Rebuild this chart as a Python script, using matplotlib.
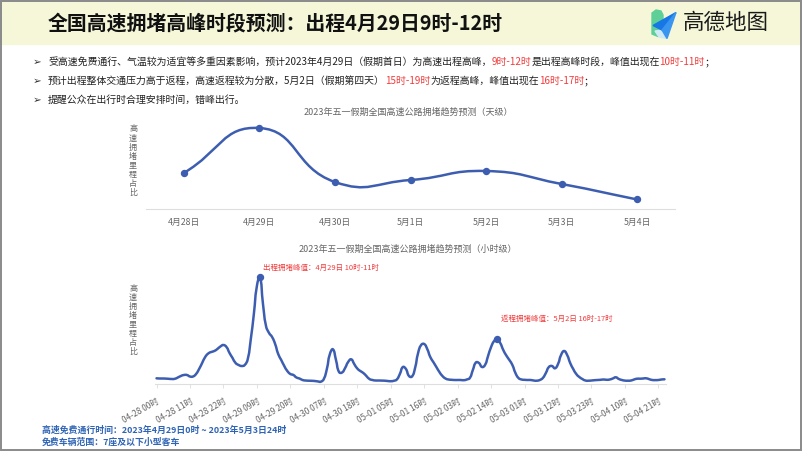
import matplotlib
matplotlib.use("Agg")

import matplotlib.pyplot as plt
import numpy as np
import pandas as pd
from matplotlib.path import Path
from matplotlib.patches import PathPatch, Polygon, Rectangle

plt.rcParams["font.family"] = ["Noto Sans CJK SC", "DejaVu Sans"]

W, H = 802, 451
LINE_BLUE = "#3d5eb0"
RED = "#f03c3c"
DARK = "#222222"
GRAY = "#666666"

TITLE = "全国高速拥堵高峰时段预测：出程4月29日9时-12时"
BRAND = "高德地图"

BULLETS = [
    [("受高速免费通行、气温较为适宜等多重因素影响，预计2023年4月29日（假期首日）为高速出程高峰，", False),
     ("9时-12时", True), ("是出程高峰时段，峰值出现在", False), ("10时-11时", True), ("；", False)],
    [("预计出程整体交通压力高于返程，高速返程较为分散，5月2日（假期第四天）", False),
     ("15时-19时", True), ("为返程高峰，峰值出现在", False), ("16时-17时", True), ("；", False)],
    [("提醒公众在出行时合理安排时间，错峰出行。", False)],
]

Y_LABEL = "高速拥堵里程占比"

DAY_TITLE = "2023年五一假期全国高速公路拥堵趋势预测（天级）"
DAYS = ["4月28日", "4月29日", "4月30日", "5月1日", "5月2日", "5月3日", "5月4日"]
DAY_VALUES = [36, 81, 27, 29, 38, 25, 9.5]

HOUR_TITLE = "2023年五一假期全国高速公路拥堵趋势预测（小时级）"
HOUR_START = "2023-04-28 00:00"
HOURLY_VALUES = [
    # 04-28
    5.7, 5.5, 5.5, 5.4, 5.2, 5.0, 5.2, 6.5, 8.0, 9.0, 9.0, 7.5,
    7.5, 10, 15, 21, 27, 30.5, 32, 33, 35, 37.5, 39, 37,
    # 04-29
    31, 26, 21, 19, 18, 19, 25, 45, 70, 98, 107, 80,
    58, 51, 47, 40, 30, 24, 18, 13, 10, 9, 6.5, 5.5,
    # 04-30
    4, 3.5, 3.3, 3.2, 3.0, 2.6, 2.3, 5, 15, 30, 34.7, 24,
    12, 11.5, 16, 22, 24.7, 20, 15.5, 13, 11, 8, 5, 4,
    # 05-01
    3.5, 3.5, 3.4, 3.3, 3.0, 2.8, 3.2, 4.5, 10, 17, 15, 8,
    7.5, 16, 31, 39, 40, 35, 27, 22, 17, 12, 8, 5.5,
    # 05-02
    4.5, 4.2, 4.0, 4.0, 4.0, 3.8, 4.5, 6, 14, 21.5, 21, 17,
    19, 28, 37, 43, 45, 41, 34, 28.5, 24, 19, 11, 6,
    # 05-03
    4.5, 4.2, 4.0, 4.0, 3.5, 3.3, 4.0, 6, 11, 17, 18, 15.7,
    20, 29, 33, 29, 21, 15, 10, 7, 5, 3.5, 3.3, 3.5,
    # 05-04
    3.8, 4.0, 4.2, 4.5, 4.2, 4.5, 5.5, 6.7, 5.0, 4.0, 3.4, 3.3,
    3.5, 4.5, 5.3, 5.3, 5.5, 5.7, 4.8, 4.0, 3.9, 4.0, 4.5, 4.7,
]
HOUR_TICK_STEP = 11
OUT_PEAK = (34, "出程拥堵峰值：4月29日 10时-11时")
RET_PEAK = (112, "返程拥堵峰值：5月2日 16时-17时")

NOTES = [
    "高速免费通行时间：2023年4月29日0时 ~ 2023年5月3日24时",
    "免费车辆范围：7座及以下小型客车",
]


def px_axes(fig, left, top, right, bottom):
    return fig.add_axes([left / W, 1 - bottom / H, (right - left) / W, (bottom - top) / H])


def smooth_line(ax, xs, ys, smooth=0.5, **kw):
    # echarts-like bezier smoothing, control points worked out in display space
    pts = ax.transData.transform(np.column_stack([xs, ys]))
    n = len(pts)
    verts = [pts[0]]
    codes = [Path.MOVETO]
    for i in range(n - 1):
        p0 = pts[max(i - 1, 0)]
        p1 = pts[i]
        p2 = pts[i + 1]
        p3 = pts[min(i + 2, n - 1)]
        d0 = np.hypot(*(p1 - p0))
        d1 = np.hypot(*(p2 - p1))
        d2 = np.hypot(*(p3 - p2))
        r1 = d1 / (d0 + d1) if d0 + d1 > 0 else 0.5
        r2 = d1 / (d1 + d2) if d1 + d2 > 0 else 0.5
        c1 = p1 + (p2 - p0) * smooth * r1
        c2 = p2 - (p3 - p1) * smooth * r2
        verts += [c1, c2, p2]
        codes += [Path.CURVE4] * 3
    verts = ax.transData.inverted().transform(np.array(verts))
    ax.add_patch(PathPatch(Path(verts, codes), fill=False, **kw))


def style_chart(ax):
    for side in ["top", "right", "left"]:
        ax.spines[side].set_visible(False)
    ax.spines["bottom"].set_color("#dedede")
    ax.spines["bottom"].set_linewidth(0.8)
    ax.set_yticks([])
    ax.set_facecolor("none")


def vertical_label(ax0, x, y_top, text):
    for i, ch in enumerate(text):
        ax0.text(x, y_top + i * 9.1, ch, fontsize=5.8, color=GRAY, ha="center", va="center")


def text_width(ax0, renderer, s, size):
    t = ax0.text(0, 0, s, fontsize=size)
    w = t.get_window_extent(renderer=renderer).width
    t.remove()
    return w


def main():
    fig = plt.figure(figsize=(W / 100, H / 100), dpi=100)
    fig.patch.set_facecolor("white")

    # full-figure overlay in pixel units
    ax0 = fig.add_axes([0, 0, 1, 1])
    ax0.set_xlim(0, W)
    ax0.set_ylim(H, 0)
    ax0.axis("off")
    renderer = fig.canvas.get_renderer()

    ax0.add_patch(Rectangle((0, 0), W, 44, color="#f5f7d8", zorder=0))
    ax0.add_patch(Rectangle((0.8, 0.8), W - 1.6, H - 1.6, fill=False, ec="#8a8a8a", lw=1.4, zorder=5))

    ax0.text(48, 23, TITLE, fontsize=14.3, fontweight="bold", color="#111111", va="center", ha="left")

    # logo
    ax0.add_patch(Polygon([(652, 13), (656, 10), (661, 11), (663, 15), (663, 33), (658, 36.5), (652, 34)],
                          closed=True, color="#5fcf98", zorder=2))
    ax0.add_patch(Polygon([(655, 31), (663, 30), (667, 38.5), (659, 37)], closed=True, color="#cfe9f6", zorder=2))
    ax0.add_patch(Polygon([(653, 25.5), (676, 12.5), (662, 30)], closed=True, color="#1677e5", zorder=3))
    ax0.add_patch(Polygon([(662, 30), (676, 12.5), (667, 38.5)], closed=True, color="#3a95f0", zorder=3))
    ax0.text(683, 23, BRAND, fontsize=15.5, fontweight="medium", color="#1a1a1a", va="center", ha="left")

    # bullet lines: each run starts where matplotlib's own layout of the whole line puts it
    size = 7.15
    for row, y in zip(BULLETS, [62, 81, 100]):
        ax0.text(33, y, "➢", fontsize=7.5, color="#333333", va="center", ha="left", family="DejaVu Sans")
        prefix = ""
        for text, red in row:
            x = 48
            if prefix:
                x += text_width(ax0, renderer, prefix + text, size) - text_width(ax0, renderer, text, size)
            ax0.text(x, y, text, fontsize=size, color=RED if red else DARK, va="center", ha="left")
            prefix += text

    # day-level chart
    ax0.text(408, 112, DAY_TITLE, fontsize=6.5, color=GRAY, ha="center", va="center")
    vertical_label(ax0, 133, 129, Y_LABEL)
    ax1 = px_axes(fig, 146, 120, 675, 209)
    style_chart(ax1)
    ax1.set_xlim(-0.5, len(DAYS) - 0.5)
    ax1.set_ylim(0, 89)
    ax1.set_xticks(range(len(DAYS)))
    ax1.set_xticklabels(DAYS, fontsize=6.3, color=GRAY)
    ax1.tick_params(axis="x", length=0, pad=6.5)
    xd = np.arange(len(DAYS))
    smooth_line(ax1, xd, DAY_VALUES, color=LINE_BLUE, lw=1.8, capstyle="round", joinstyle="round")
    ax1.plot(xd, DAY_VALUES, "o", color=LINE_BLUE, ms=4.3, zorder=4)

    # hour-level chart
    ax0.text(408, 249, HOUR_TITLE, fontsize=6.5, color=GRAY, ha="center", va="center")
    vertical_label(ax0, 133, 288, Y_LABEL)
    hours = pd.date_range(HOUR_START, periods=len(HOURLY_VALUES), freq="h")
    hour_labels = [h.strftime("%m-%d %H") + "时" for h in hours]
    ax2 = px_axes(fig, 155, 270, 666, 384)
    style_chart(ax2)
    ax2.set_xlim(-0.5, len(HOURLY_VALUES) - 0.5)
    ax2.set_ylim(0, 114)
    xh = np.arange(len(HOURLY_VALUES))
    tick_idx = xh[::HOUR_TICK_STEP]
    ax2.set_xticks(tick_idx)
    ax2.set_xticklabels([hour_labels[i] for i in tick_idx], fontsize=6, color=GRAY,
                        rotation=30, ha="right", rotation_mode="anchor")
    ax2.tick_params(axis="x", length=3, width=0.6, color="#dddddd", pad=6)
    smooth_line(ax2, xh, HOURLY_VALUES, color=LINE_BLUE, lw=1.8, capstyle="round", joinstyle="round")

    for (idx, label), dy in [(OUT_PEAK, 9), (RET_PEAK, 20)]:
        ax2.plot(idx, HOURLY_VALUES[idx], "o", color=LINE_BLUE, ms=4.3, zorder=4)
        ax2.annotate(label, xy=(idx, HOURLY_VALUES[idx]), xytext=(3.5, dy), textcoords="offset pixels",
                     fontsize=5.4, color=RED, ha="left", va="center", annotation_clip=False)

    # footnotes
    for note, y in zip(NOTES, [430, 442]):
        ax0.text(42, y, note, fontsize=6.4, fontweight="bold", color="#2f64b5", ha="left", va="center")

    fig.savefig("out.png", dpi=100)
    plt.close(fig)


if __name__ == "__main__":
    main()
